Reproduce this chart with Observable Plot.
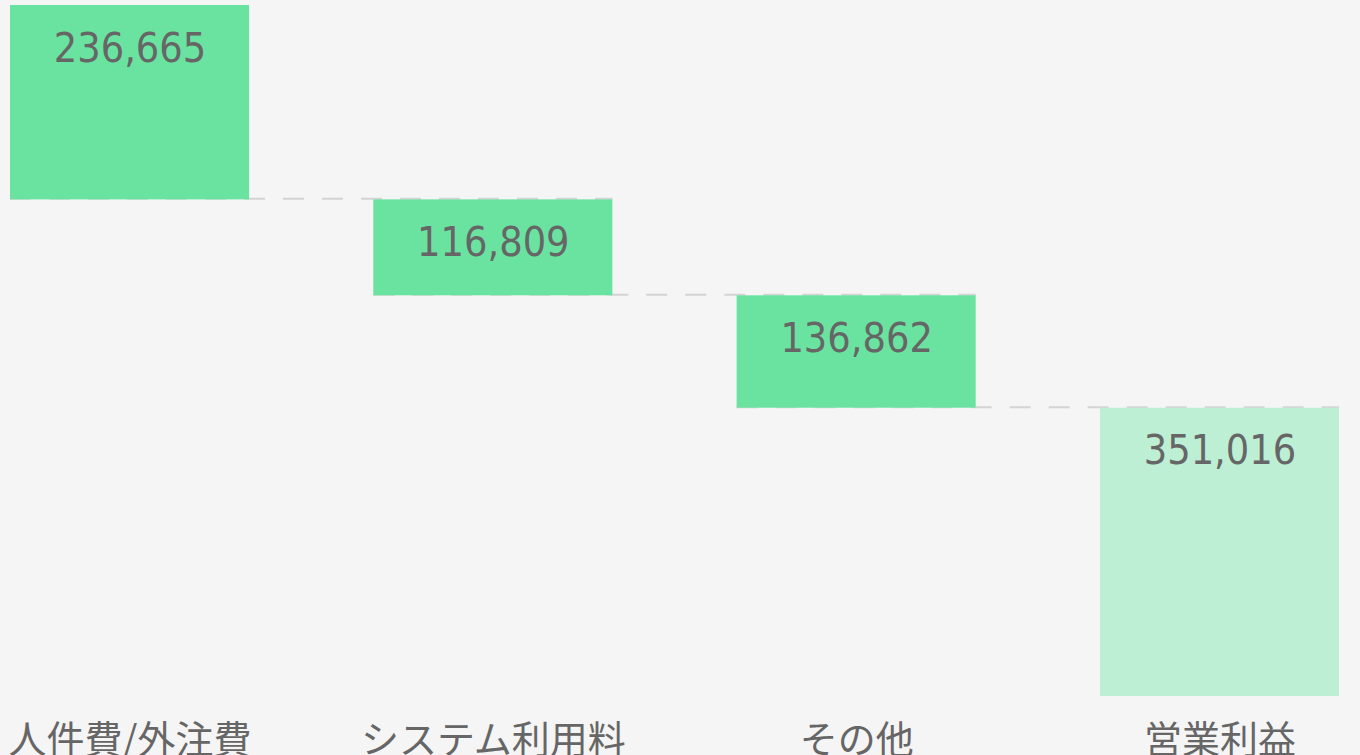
<!DOCTYPE html>
<html>
<head>
<meta charset="utf-8">
<script src="https://cdn.jsdelivr.net/npm/d3@7"></script>
<script src="https://cdn.jsdelivr.net/npm/@observablehq/plot@0.6"></script>
<style>
  html, body { margin: 0; padding: 0; background: #f5f5f5; overflow: hidden; }
  #chart svg { display: block; }
</style>
</head>
<body>
<div id="chart"></div>
<script>
const categories = ["人件費/外注費", "システム利用料", "その他", "営業利益"];
const values = [236665, 116809, 136862, 351016];
const kinds = ["cost", "cost", "cost", "total"];

const total = d3.sum(values);
let running = total;
const data = categories.map((c, i) => {
  const top = kinds[i] === "total" ? values[i] : running;
  const bottom = top - values[i];
  running = bottom;
  return {cat: c, value: values[i], kind: kinds[i], top, bottom};
});
const connectors = data.slice(1).map((d, i) => ({from: data[i].cat, to: d.cat, y: d.top}));
const topConnector = [{to: data[0].cat, y: data[0].top}];

const fmt = d3.format(",");

const chart = Plot.plot({
  width: 1360,
  height: 755,
  marginLeft: 0,
  marginRight: 11,
  marginTop: 5,
  marginBottom: 59,
  style: {background: "#f5f5f5", color: "#666666", overflow: "visible"},
  x: {domain: categories, paddingInner: 0.342, paddingOuter: 0.0275, round: false},
  y: {domain: [0, total], axis: null},
  marks: [
    Plot.ruleY(topConnector, {y: "y", x2: "to", stroke: "#d4d4d4", strokeWidth: 2, strokeDasharray: "20,19", strokeDashoffset: 4, dy: -1}),
    Plot.ruleY(connectors, {y: "y", x1: "from", x2: "to", stroke: "#d4d4d4", strokeWidth: 2, strokeDasharray: "21,18", dy: -1}),
    Plot.barY(data, {x: "cat", y1: "bottom", y2: "top", fill: d => d.kind === "total" ? "#bdefd4" : "#6be3a0"}),
    Plot.text(data, {
      x: "cat", y: "top", text: d => fmt(d.value),
      lineAnchor: "bottom", dy: 56, fontSize: 41,
      fontFamily: "'DejaVu Sans Condensed', 'DejaVu Sans', sans-serif",
      fill: "#666666"
    }),
    Plot.axisX({
      tickSize: 0, tickPadding: 30, fontSize: 38, label: null,
      fontFamily: "'Noto Sans CJK JP', sans-serif", fill: "#666666"
    })
  ]
});
chart.querySelectorAll("text").forEach(t => {
  if (t.getAttribute("font-family") && t.getAttribute("font-family").includes("DejaVu")) {
    t.style.fontStretch = "condensed";
  }
});
document.getElementById("chart").appendChild(chart);
</script>
</body>
</html>
